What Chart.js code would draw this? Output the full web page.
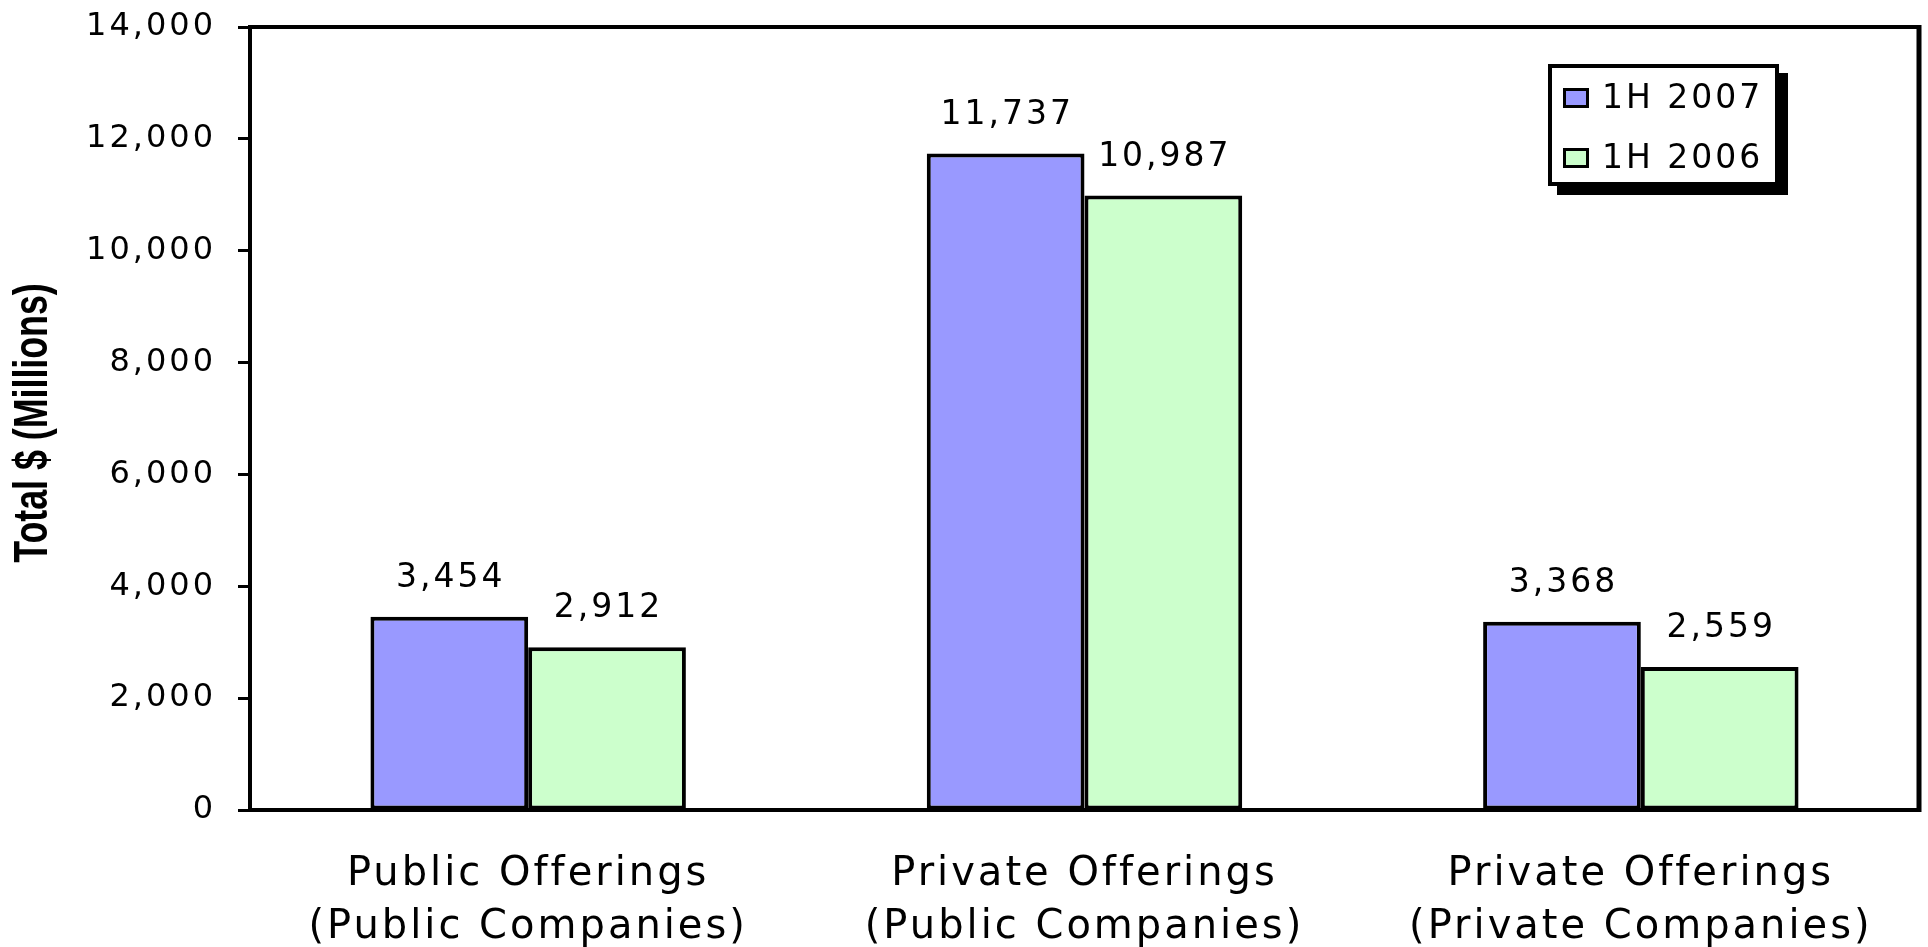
<!DOCTYPE html>
<html>
<head>
<meta charset="utf-8">
<title>Offerings 1H 2007 vs 1H 2006</title>
<script src="https://cdn.jsdelivr.net/npm/chart.js@4.4.1/dist/chart.umd.min.js"></script>
<style>
  html, body { margin: 0; padding: 0; background: #ffffff; }
  #wrap { width: 1928px; height: 947px; position: relative; }
</style>
</head>
<body>
<div id="wrap"><canvas id="offeringsChart"></canvas></div>
<script>
const categories = [
  ["Public Offerings", "(Public Companies)"],
  ["Private Offerings", "(Public Companies)"],
  ["Private Offerings", "(Private Companies)"],
];
const seriesNames = ["1H 2007", "1H 2006"];
const values2007 = [3454, 11737, 3368];
const values2006 = [2912, 10987, 2559];
const yTicks = [0, 2000, 4000, 6000, 8000, 10000, 12000, 14000];
const yTitle = "Total $ (Millions)";

const FONT = "'DejaVu Sans', Verdana, sans-serif";
const TITLE_FONT = "'Liberation Sans', Arial, sans-serif";
const SPACING = "3px";

// the old bitmap font is very wide, so widen canvas text a bit
const spacingPlugin = {
  id: "spacing",
  beforeLayout(chart) {
    chart.ctx.letterSpacing = SPACING;
  },
  beforeDraw(chart) {
    chart.ctx.letterSpacing = SPACING;
  },
};

const framePlugin = {
  id: "frame",
  afterDraw(chart) {
    const { ctx, chartArea } = chart;
    ctx.save();
    ctx.strokeStyle = "#000";
    ctx.lineWidth = 4;
    ctx.beginPath();
    ctx.moveTo(chartArea.left, chartArea.top);
    ctx.lineTo(chartArea.right + 2, chartArea.top);
    ctx.stroke();
    ctx.lineWidth = 5;
    ctx.beginPath();
    ctx.moveTo(chartArea.right, chartArea.top - 2);
    ctx.lineTo(chartArea.right, chartArea.bottom + 2);
    ctx.stroke();
    ctx.restore();
  },
};

const valueLabelPlugin = {
  id: "valueLabels",
  afterDatasetsDraw(chart) {
    const { ctx } = chart;
    ctx.save();
    ctx.letterSpacing = SPACING;
    ctx.fillStyle = "#000";
    ctx.font = "33px " + FONT;
    ctx.textAlign = "center";
    ctx.textBaseline = "alphabetic";
    chart.data.datasets.forEach((ds, i) => {
      chart.getDatasetMeta(i).data.forEach((bar, j) => {
        ctx.fillText(ds.data[j].toLocaleString("en-US"), bar.x + 1.5, bar.y - 30);
      });
    });
    ctx.restore();
  },
};

const legendPlugin = {
  id: "boxLegend",
  afterDraw(chart) {
    const { ctx, chartArea } = chart;
    const x = chartArea.right - 371;
    const y = chartArea.top + 37;
    const w = 231;
    const h = 122;
    ctx.save();
    ctx.fillStyle = "#000";
    ctx.fillRect(x + 9, y + 9, w, h);
    ctx.fillStyle = "#fff";
    ctx.fillRect(x, y, w, h);
    ctx.strokeStyle = "#000";
    ctx.lineWidth = 4;
    ctx.strokeRect(x + 2, y + 2, w - 4, h - 4);
    ctx.letterSpacing = SPACING;
    ctx.font = "33px " + FONT;
    ctx.textBaseline = "alphabetic";
    chart.data.datasets.forEach((ds, i) => {
      const rowY = y + 24 + i * 60;
      ctx.fillStyle = ds.backgroundColor;
      ctx.fillRect(x + 15, rowY, 26, 20);
      ctx.lineWidth = 3;
      ctx.strokeRect(x + 16.5, rowY + 1.5, 23, 17);
      ctx.fillStyle = "#000";
      ctx.fillText(ds.label, x + 54, rowY + 20);
    });
    ctx.restore();
  },
};

const yTitlePlugin = {
  id: "yTitle",
  afterDraw(chart) {
    const { ctx } = chart;
    ctx.save();
    ctx.letterSpacing = "0px";
    ctx.fillStyle = "#000";
    ctx.font = "bold 49px " + TITLE_FONT;
    ctx.translate(33, 423);
    ctx.rotate(-Math.PI / 2);
    ctx.scale(0.73, 1);
    ctx.textAlign = "center";
    ctx.textBaseline = "middle";
    ctx.fillText(yTitle, 0, 0);
    ctx.restore();
  },
};

function renderChart() {
  const ctx = document.getElementById("offeringsChart");

  return new Chart(ctx, {
    type: "bar",
    data: {
      labels: categories,
      datasets: [
        {
          label: seriesNames[0],
          data: values2007,
          backgroundColor: "#9999ff",
          borderColor: "#000",
          borderWidth: 4,
          borderSkipped: false,
        },
        {
          label: seriesNames[1],
          data: values2006,
          backgroundColor: "#ccffcc",
          borderColor: "#000",
          borderWidth: 4,
          borderSkipped: false,
        },
      ],
    },
    options: {
      responsive: true,
      maintainAspectRatio: false,
      animation: false,
      layout: {
        padding: { left: 0, right: 9, top: 27, bottom: 0 },
      },
      datasets: {
        bar: {
          categoryPercentage: 0.567,
          barPercentage: 1.0,
        },
      },
      plugins: {
        legend: { display: false },
        tooltip: { enabled: false },
      },
      scales: {
        x: {
          grid: { display: false },
          border: { display: true, color: "#000", width: 4 },
          ticks: {
            color: "#000",
            padding: 30,
            maxRotation: 0,
            font: { family: FONT, size: 40, lineHeight: 1.33 },
          },
          afterFit(scale) {
            scale.height = 137;
          },
        },
        y: {
          min: 0,
          max: 14000,
          afterBuildTicks(scale) {
            scale.ticks = yTicks.map((v) => ({ value: v }));
          },
          grid: {
            drawOnChartArea: false,
            drawTicks: true,
            tickLength: 12,
            tickWidth: 3,
            tickColor: "#000",
          },
          border: { display: true, color: "#000", width: 4 },
          ticks: {
            color: "#000",
            padding: 22,
            font: { family: FONT, size: 32 },
            callback: function (value) {
              return value.toLocaleString("en-US");
            },
          },
          afterFit(scale) {
            scale.width = 250;
            // keep the top of the plot where the layout padding puts it
            scale.paddingTop = 0;
            scale.paddingBottom = 0;
          },
        },
      },
    },
    plugins: [spacingPlugin, framePlugin, valueLabelPlugin, legendPlugin, yTitlePlugin],
  });
}

renderChart();
</script>
</body>
</html>
